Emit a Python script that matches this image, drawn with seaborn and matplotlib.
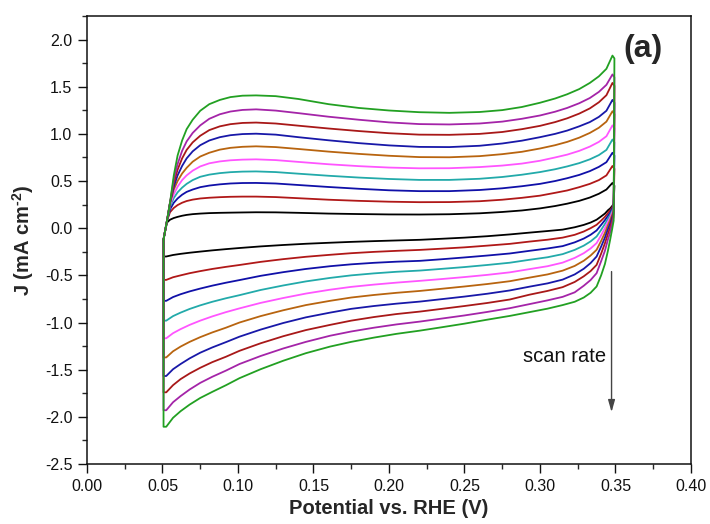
import numpy as np
import pandas as pd
import matplotlib
matplotlib.use("Agg")
import matplotlib.pyplot as plt
from matplotlib.ticker import AutoMinorLocator, FormatStrFormatter
import seaborn as sns

# Cyclic voltammograms recorded at ten scan rates (slowest first)
curve_ids = ["s1", "s2", "s3", "s4", "s5", "s6", "s7", "s8", "s9", "s10"]
curve_colors = ["#000000", "#B01818", "#1010A8", "#22AAAA", "#FF55FF",
                "#B8640F", "#1818A8", "#A81818", "#A424A8", "#22A022"]

# Anodic (forward) sweep, potential in V vs. RHE
V_anodic = [0.0507, 0.0515, 0.053, 0.055, 0.0575, 0.060, 0.063, 0.066, 0.070,
            0.075, 0.081, 0.088, 0.095, 0.103, 0.112,
            0.125, 0.140, 0.160, 0.180, 0.200, 0.220, 0.240, 0.260, 0.275,
            0.288, 0.300, 0.310, 0.318, 0.326, 0.333, 0.339, 0.344, 0.348]

# Anodic current density (mA cm^-2), one row per scan rate
J_anodic = [
    [-0.12, -0.05, 0.06, 0.09, 0.108, 0.12, 0.132, 0.141, 0.149, 0.155, 0.16, 0.163,
     0.165, 0.167, 0.169,
     0.168, 0.163, 0.155, 0.150, 0.146, 0.145, 0.148, 0.158, 0.172, 0.188, 0.21,
     0.235, 0.26, 0.29, 0.325, 0.365, 0.41, 0.48],
    [-0.12, -0.05, 0.08, 0.17, 0.215, 0.245, 0.27, 0.288, 0.303, 0.315, 0.323, 0.329,
     0.333, 0.335, 0.335,
     0.33, 0.318, 0.302, 0.29, 0.281, 0.276, 0.277, 0.286, 0.302, 0.322, 0.345,
     0.375, 0.40, 0.435, 0.47, 0.51, 0.56, 0.66],
    [-0.12, -0.05, 0.08, 0.20, 0.27, 0.315, 0.355, 0.385, 0.41, 0.435, 0.452, 0.465,
     0.474, 0.479, 0.48,
     0.474, 0.458, 0.437, 0.418, 0.402, 0.393, 0.393, 0.405, 0.423, 0.445, 0.47,
     0.50, 0.53, 0.565, 0.605, 0.65, 0.70, 0.80],
    [-0.12, -0.05, 0.08, 0.23, 0.32, 0.38, 0.43, 0.47, 0.51, 0.545, 0.568, 0.584,
     0.594, 0.60, 0.602,
     0.595, 0.578, 0.556, 0.537, 0.522, 0.512, 0.512, 0.524, 0.543, 0.567, 0.595,
     0.625, 0.655, 0.69, 0.73, 0.775, 0.83, 0.94],
    [-0.12, -0.05, 0.08, 0.25, 0.36, 0.44, 0.51, 0.56, 0.61, 0.655, 0.688, 0.708,
     0.72, 0.727, 0.73,
     0.722, 0.703, 0.678, 0.658, 0.643, 0.635, 0.636, 0.648, 0.664, 0.685, 0.715,
     0.75, 0.78, 0.82, 0.865, 0.915, 0.975, 1.09],
    [-0.12, -0.05, 0.08, 0.27, 0.41, 0.50, 0.58, 0.64, 0.705, 0.76, 0.80, 0.833,
     0.852, 0.863, 0.868,
     0.86, 0.84, 0.812, 0.788, 0.768, 0.754, 0.752, 0.764, 0.785, 0.81, 0.845,
     0.88, 0.915, 0.96, 1.01, 1.065, 1.13, 1.24],
    [-0.12, -0.05, 0.08, 0.27, 0.44, 0.56, 0.66, 0.74, 0.815, 0.88, 0.93, 0.965,
     0.986, 0.998, 1.002,
     0.992, 0.965, 0.932, 0.902, 0.878, 0.862, 0.86, 0.874, 0.898, 0.928, 0.965,
     1.0, 1.035, 1.08, 1.125, 1.18, 1.245, 1.36],
    [-0.12, -0.05, 0.08, 0.27, 0.48, 0.62, 0.74, 0.83, 0.91, 0.98, 1.04, 1.08,
     1.103, 1.116, 1.12,
     1.11, 1.087, 1.057, 1.03, 1.007, 0.992, 0.99, 1.0, 1.02, 1.05, 1.085,
     1.125, 1.165, 1.215, 1.27, 1.335, 1.41, 1.54],
    [-0.12, -0.05, 0.08, 0.27, 0.52, 0.68, 0.82, 0.92, 1.01, 1.09, 1.16, 1.208,
     1.237, 1.254, 1.26,
     1.247, 1.22, 1.182, 1.15, 1.122, 1.104, 1.10, 1.11, 1.13, 1.16, 1.195,
     1.235, 1.275, 1.325, 1.38, 1.445, 1.52, 1.63],
    [-0.12, -0.05, 0.08, 0.27, 0.56, 0.77, 0.93, 1.05, 1.15, 1.245, 1.315, 1.36,
     1.39, 1.405, 1.408,
     1.40, 1.37, 1.315, 1.275, 1.248, 1.230, 1.223, 1.232, 1.252, 1.285, 1.33,
     1.375, 1.42, 1.475, 1.54, 1.61, 1.69, 1.83],
]

# Cathodic (reverse) sweep potentials
V_cathodic = [0.3493, 0.3488, 0.3478, 0.3465, 0.3450, 0.3430, 0.3405, 0.3375,
              0.3335, 0.329, 0.323, 0.315, 0.305, 0.293, 0.280, 0.265, 0.250,
              0.235, 0.2205, 0.205, 0.190, 0.175, 0.161, 0.145, 0.130, 0.115,
              0.101, 0.092, 0.083, 0.075, 0.068, 0.062, 0.057, 0.0525, 0.0507]

# Cathodic current density: one row per potential, columns follow curve_ids
J_cathodic = [
    [0.45, 0.63, 0.77, 0.91, 1.06, 1.21, 1.33, 1.51, 1.60, 1.80],
    [0.26, 0.25, 0.24, 0.225, 0.21, 0.19, 0.17, 0.15, 0.12, 0.08],
    [0.235, 0.22, 0.205, 0.185, 0.165, 0.14, 0.115, 0.085, 0.05, -0.01],
    [0.21, 0.19, 0.165, 0.14, 0.115, 0.085, 0.05, 0.01, -0.04, -0.12],
    [0.19, 0.16, 0.13, 0.10, 0.065, 0.03, -0.01, -0.06, -0.12, -0.24],
    [0.155, 0.12, 0.085, 0.045, 0.0, -0.05, -0.10, -0.16, -0.24, -0.38],
    [0.125, 0.08, 0.035, -0.018, -0.075, -0.135, -0.195, -0.27, -0.35, -0.50],
    [0.09, 0.036, -0.024, -0.088, -0.158, -0.229, -0.30, -0.389, -0.477, -0.618],
    [0.06, 0.0, -0.07, -0.14, -0.215, -0.29, -0.37, -0.455, -0.55, -0.685],
    [0.035, -0.035, -0.11, -0.185, -0.265, -0.345, -0.43, -0.51, -0.61, -0.735],
    [0.01, -0.07, -0.15, -0.23, -0.315, -0.40, -0.49, -0.57, -0.68, -0.78],
    [-0.015, -0.10, -0.19, -0.275, -0.365, -0.45, -0.545, -0.625, -0.728, -0.815],
    [-0.03, -0.122, -0.215, -0.308, -0.403, -0.49, -0.585, -0.665, -0.765, -0.853],
    [-0.047, -0.142, -0.24, -0.335, -0.434, -0.524, -0.62, -0.705, -0.805, -0.89],
    [-0.066, -0.166, -0.268, -0.366, -0.468, -0.562, -0.66, -0.756, -0.848, -0.93],
    [-0.085, -0.185, -0.29, -0.39, -0.495, -0.592, -0.695, -0.793, -0.888, -0.97],
    [-0.10, -0.203, -0.31, -0.412, -0.518, -0.618, -0.725, -0.825, -0.925, -1.012],
    [-0.112, -0.217, -0.329, -0.431, -0.539, -0.642, -0.752, -0.855, -0.958, -1.05],
    [-0.123, -0.23, -0.346, -0.449, -0.558, -0.665, -0.778, -0.884, -0.99, -1.086],
    [-0.13, -0.24, -0.355, -0.462, -0.577, -0.685, -0.80, -0.91, -1.02, -1.12],
    [-0.137, -0.251, -0.367, -0.479, -0.598, -0.708, -0.825, -0.942, -1.055, -1.16],
    [-0.145, -0.265, -0.383, -0.50, -0.622, -0.735, -0.855, -0.98, -1.095, -1.205],
    [-0.154, -0.282, -0.403, -0.527, -0.652, -0.77, -0.895, -1.025, -1.14, -1.255],
    [-0.165, -0.303, -0.432, -0.564, -0.693, -0.815, -0.945, -1.08, -1.205, -1.325],
    [-0.178, -0.328, -0.466, -0.607, -0.74, -0.87, -1.005, -1.145, -1.275, -1.405],
    [-0.193, -0.357, -0.505, -0.655, -0.792, -0.932, -1.075, -1.22, -1.355, -1.495],
    [-0.21, -0.39, -0.55, -0.71, -0.85, -1.0, -1.15, -1.30, -1.44, -1.59],
    [-0.222, -0.41, -0.578, -0.743, -0.89, -1.055, -1.208, -1.363, -1.51, -1.665],
    [-0.235, -0.432, -0.609, -0.78, -0.935, -1.105, -1.264, -1.42, -1.575, -1.735],
    [-0.248, -0.455, -0.64, -0.818, -0.98, -1.155, -1.32, -1.48, -1.64, -1.80],
    [-0.26, -0.477, -0.67, -0.856, -1.025, -1.205, -1.38, -1.54, -1.71, -1.87],
    [-0.272, -0.50, -0.70, -0.895, -1.07, -1.255, -1.44, -1.60, -1.78, -1.94],
    [-0.284, -0.52, -0.73, -0.932, -1.113, -1.305, -1.495, -1.664, -1.845, -2.01],
    [-0.30, -0.548, -0.77, -0.98, -1.167, -1.37, -1.567, -1.74, -1.93, -2.105],
    [-0.30, -0.548, -0.77, -0.98, -1.167, -1.37, -1.567, -1.74, -1.93, -2.105],
]

x_ticks = [0.00, 0.05, 0.10, 0.15, 0.20, 0.25, 0.30, 0.35, 0.40]
y_ticks = [-2.5, -2.0, -1.5, -1.0, -0.5, 0.0, 0.5, 1.0, 1.5, 2.0]

# Build one closed loop per scan rate: forward sweep, reverse sweep, back to start
J_cath_T = np.array(J_cathodic).T
rows = []
for k, cid in enumerate(curve_ids):
    vs = list(V_anodic) + list(V_cathodic) + [V_anodic[0]]
    js = list(J_anodic[k]) + list(J_cath_T[k]) + [J_anodic[k][0]]
    for step, (v, j) in enumerate(zip(vs, js)):
        rows.append({"curve": cid, "step": step, "V": v, "J": j})
cv = pd.DataFrame(rows)

sns.set_theme(style="ticks")
plt.rcParams["font.family"] = ["Liberation Sans", "DejaVu Sans"]
plt.rcParams["axes.unicode_minus"] = False
plt.rcParams["mathtext.fontset"] = "custom"
plt.rcParams["mathtext.rm"] = "Liberation Sans"
plt.rcParams["mathtext.bf"] = "Liberation Sans:bold"

fig = plt.figure(figsize=(7.1, 5.24), dpi=100)
ax = fig.add_axes([0.1225, 0.1145, 0.8507, 0.855])

sns.lineplot(data=cv, x="V", y="J", hue="curve", hue_order=curve_ids,
             palette=curve_colors, sort=False, estimator=None, units="curve",
             linewidth=1.3, legend=False, ax=ax)

ax.set_xlim(0.0, 0.40)
ax.set_ylim(-2.5, 2.25)
ax.set_xticks(x_ticks)
ax.set_yticks(y_ticks)
ax.xaxis.set_major_formatter(FormatStrFormatter("%.2f"))
ax.yaxis.set_major_formatter(FormatStrFormatter("%.1f"))
ax.xaxis.set_minor_locator(AutoMinorLocator(2))
ax.yaxis.set_minor_locator(AutoMinorLocator(2))
ax.tick_params(which="major", direction="out", length=6.5, width=1.0,
               labelsize=11.5, colors="#111111", pad=4,
               top=False, right=False)
ax.tick_params(which="minor", direction="out", length=3.8, width=1.0,
               top=False, right=False)
for sp in ax.spines.values():
    sp.set_visible(True)
    sp.set_linewidth(1.1)
    sp.set_color("#111111")

ax.set_xlabel("Potential vs. RHE (V)", fontsize=14.5, fontweight="bold", labelpad=4)
ax.set_ylabel("J (mA cm$^{\\mathbf{\u2010}\\mathbf{2}}$)", fontsize=14.5,
              fontweight="bold", labelpad=6)

ax.text(0.368, 1.90, "(a)", fontsize=23, fontweight="bold", ha="center", va="center")
ax.text(0.3437, -1.36, "scan rate", fontsize=14.5, ha="right", va="center", color="#111111")
ax.annotate("", xy=(0.3474, -1.95), xytext=(0.3474, -0.46),
            arrowprops=dict(arrowstyle="-|>,head_length=0.6,head_width=0.17",
                            color="#444444", lw=1.0, mutation_scale=12,
                            shrinkA=0, shrinkB=0))

fig.savefig("out.png", dpi=100, facecolor="white")
